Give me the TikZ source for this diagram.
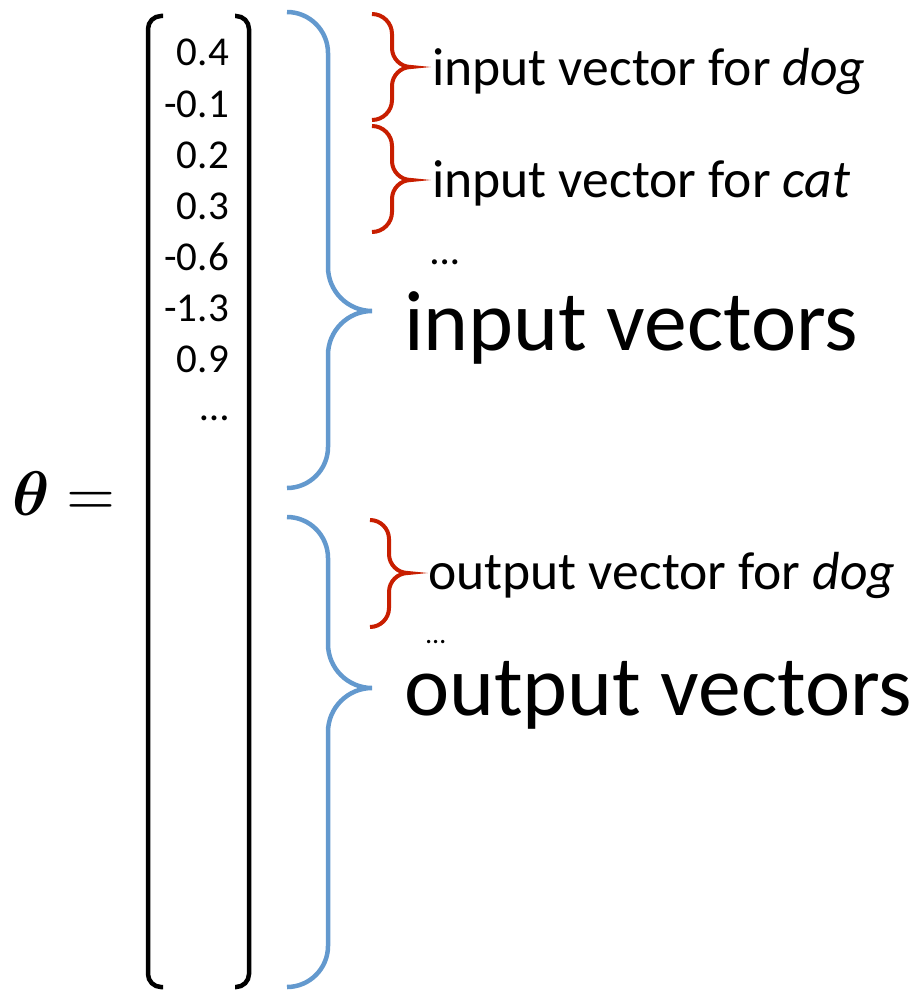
\documentclass[tikz,border=0pt]{standalone}
\usepackage{fontspec}
\usepackage{bm}
\setmainfont{Carlito}
\definecolor{bblue}{RGB}{99,153,206}
\definecolor{bred}{RGB}{200,30,0}
\newcommand\mybrace[7]{%
  \pgfmathsetmacro\myrr{#3-#2}%
  \pgfmathsetmacro\mytip{#4-#3}%
  \draw[#1] (#2,#5) .. controls ({#2+0.55*\myrr},#5) and (#3,{#5+0.45*\myrr}) .. (#3,{#5+\myrr})
    -- (#3,{#6-\mytip}) .. controls (#3,{#6-0.45*\mytip}) and ({#4-0.55*\mytip},#6) .. (#4,#6)
    .. controls ({#4-0.55*\mytip},#6) and (#3,{#6+0.45*\mytip}) .. (#3,{#6+\mytip})
    -- (#3,{#7-\myrr}) .. controls (#3,{#7-0.45*\myrr}) and ({#2+0.55*\myrr},#7) .. (#2,#7);}
\begin{document}
\begin{tikzpicture}[x=1pt,y=-1pt,
  bluebr/.style={draw=bblue,line width=4.5pt},
  redbr/.style={draw=bred,line width=4pt},
  bracket/.style={draw=black,line width=4.5pt,rounded corners=13pt},
  num/.style={anchor=base east,inner sep=0pt,font=\fontsize{41}{41}\selectfont},
  lab/.style={anchor=base west,inner sep=0pt,font=\fontsize{53.6}{54}\selectfont},
  big/.style={anchor=base west,inner sep=0pt,font=\fontsize{85.6}{86}\selectfont}]
\useasboundingbox (0,0) rectangle (917,990);
% matrix brackets
\draw[bracket] (163,16) -| (148,500) |- (163,987);
\draw[bracket] (235,16) -| (249,500) |- (235,987);
% theta
\node[inner sep=0pt,scale=6.3] (theta) at (64,494) {$\bm{\theta} =$};
% numbers
\node[num] (n1) at (229,66) {0.4};
\node[num] (n2) at (229,117) {-0.1};
\node[num] (n3) at (229,168) {0.2};
\node[num] (n4) at (229,219) {0.3};
\node[num] (n5) at (229,270) {-0.6};
\node[num] (n6) at (229,321) {-1.3};
\node[num] (n7) at (229,372) {0.9};
\node[num] (n8) at (229,420) {…};
% blue braces
\mybrace{bluebr}{287}{328}{372}{12}{311}{488}
\mybrace{bluebr}{287}{328}{372}{517}{688}{987}
% red braces
\mybrace{redbr}{372}{392}{411}{14}{67}{120}
\mybrace{redbr}{372}{392}{411}{126}{180}{232}
\mybrace{redbr}{370}{389}{408}{520}{573}{627}
% labels
\node[lab] (l1) at (432,85) {input vector for \textit{dog}};
\node[lab] (l2) at (432,197) {input vector for \textit{cat}};
\node[anchor=base west,inner sep=0pt,font=\fontsize{42}{42}\selectfont] (l3) at (431,264) {\textit{…}};
\node[big] (b1) at (404,350) {input vectors};
\node[lab] (l4) at (428,589) {output vector for \textit{dog}};
\node[anchor=base west,inner sep=0pt,font=\fontsize{28}{28}\selectfont] (l5) at (426,643) {…};
\node[big] (b2) at (404,715) {output vectors};
\end{tikzpicture}
\end{document}
